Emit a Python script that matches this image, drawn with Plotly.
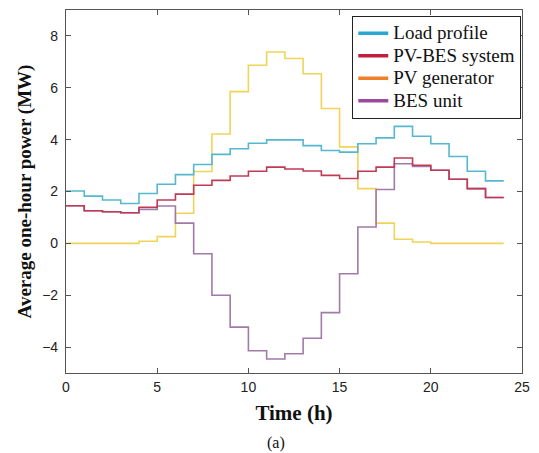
import plotly.graph_objects as go

hours = list(range(25))
load_profile = [2.02, 1.82, 1.67, 1.54, 1.92, 2.28, 2.65, 3.04, 3.43, 3.65, 3.86, 3.99,
                3.99, 3.77, 3.58, 3.52, 3.84, 4.07, 4.51, 4.13, 3.84, 3.35, 2.78, 2.41]
pv_bes = [1.45, 1.26, 1.22, 1.18, 1.39, 1.67, 1.90, 2.24, 2.43, 2.60, 2.78, 2.94,
          2.87, 2.79, 2.62, 2.50, 2.78, 2.94, 3.29, 3.01, 2.82, 2.47, 2.11, 1.77]
pv_gen = [0, 0, 0, 0, 0.08, 0.26, 1.16, 2.77, 4.22, 5.85, 6.87, 7.38,
          7.13, 6.54, 5.20, 3.72, 2.11, 0.78, 0.16, 0.05, 0, 0, 0, 0]
bes_unit = [1.45, 1.26, 1.22, 1.18, 1.31, 1.44, 0.78, -0.40, -2.00, -3.23, -4.14, -4.46,
            -4.26, -3.66, -2.67, -1.17, 0.63, 2.08, 3.07, 2.97, 2.82, 2.47, 2.11, 1.77]

names = ["Load profile", "PV-BES system", "PV generator", "BES unit"]
series = [load_profile, pv_bes, pv_gen, bes_unit]
line_colors = ["#55b8d0", "#c03a55", "#f0d45a", "#a27aa8"]
legend_colors = ["#2aa6d2", "#c0203c", "#f07f2a", "#9a4a9e"]
draw_order = [2, 3, 0, 1]

fig = go.Figure()
for i in draw_order:
    ys = series[i] + [series[i][-1]]
    fig.add_trace(go.Scatter(x=hours, y=ys, mode="lines", line_shape="hv",
                             line=dict(color=line_colors[i], width=1.6),
                             showlegend=False, hoverinfo="skip"))
for i in range(4):
    fig.add_trace(go.Scatter(x=[None], y=[None], mode="lines",
                             name='<span style="font-size:19px">' + names[i] + '</span>',
                             line=dict(color=legend_colors[i], width=3.5)))

axis_common = dict(showline=True, linecolor="#555555", linewidth=1.2, mirror="allticks",
                   ticks="inside", ticklen=5, tickcolor="#555555", showgrid=False,
                   zeroline=False, tickfont=dict(family="Liberation Sans", size=14, color="#222222"))

fig.update_xaxes(range=[0, 25], dtick=5, tick0=0, ticklabelstandoff=1,
                 title=dict(text="<b>Time (h)</b>", font=dict(family="Liberation Serif", size=21, color="#111111"), standoff=11),
                 **axis_common)
fig.update_yaxes(range=[-5, 9], dtick=2, tick0=0, ticklabelstandoff=4,
                 title=dict(text="<b>Average one-hour power (MW)</b>", font=dict(family="Liberation Serif", size=19, color="#111111"), standoff=5),
                 **axis_common)

fig.update_layout(
    width=539, height=453,
    margin=dict(l=66, r=11, t=9, b=80),
    plot_bgcolor="white", paper_bgcolor="white",
    legend=dict(x=0.998, y=0.984, xanchor="right", yanchor="top",
                bgcolor="white", bordercolor="#222222", borderwidth=1.2,
                font=dict(family="Liberation Serif", size=15, color="#111111"),
                tracegroupgap=0, itemwidth=30),
    annotations=[dict(text="(a)", x=(279 - 66) / 462, y=-(443 - 373) / 364, xref="paper", yref="paper",
                      xanchor="center", yanchor="middle", showarrow=False,
                      font=dict(family="Liberation Serif", size=16, color="#111111"))],
)

fig.write_html("out.html", config={"displayModeBar": False},
               post_script="document.body.style.margin='0';document.body.style.overflow='hidden';")
